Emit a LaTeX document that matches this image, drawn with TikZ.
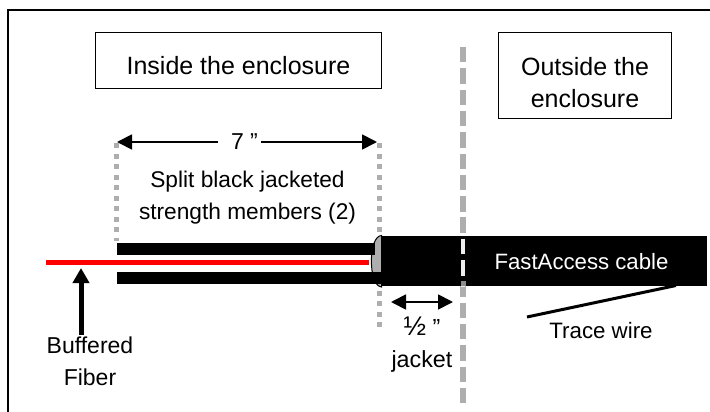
\documentclass[tikz,border=0pt]{standalone}
\usepackage{fontspec}
\setmainfont{Liberation Sans}
\usetikzlibrary{arrows.meta}
\definecolor{guide}{HTML}{AEAEAE}
\tikzset{
 lbl/.style={inner sep=0pt,anchor=base,align=center,font=\fontsize{#1}{32}\selectfont},
 box/.style={draw=black,line width=0.9pt,fill=white,inner sep=0pt},
 dots/.style={draw=guide,line width=5pt,dash pattern=on 5pt off 5.55pt},
 dashgray/.style={line width=6pt,dash pattern=on 15.5pt off 5.8pt},
 dim/.style={draw=black,line width=1.8pt,arrows={-{Triangle[length=15pt,width=15pt]}}},
 dimtwo/.style={draw=black,line width=1.8pt,arrows={{Triangle[length=15pt,width=15pt]}-{Triangle[length=15pt,width=15pt]}}},
}
\begin{document}
\begin{tikzpicture}[x=1pt,y=-1pt]
\useasboundingbox (0,0) rectangle (710,412);
\fill[white] (0,0) rectangle (710,412);
% frame: only its top and left sides fall inside the picture
\coordinate (fb) at (8,412); \coordinate (fc) at (8,10); \coordinate (fr) at (710,10);
\draw[black,line width=1.5pt] (fb)--(fc)--(fr);
% boxes
\node[box,minimum width=285.5pt,minimum height=56pt] (inside) at (238.25,60.5) {};
\node[lbl=25] (insidetext) at (238.5,75) {Inside the enclosure};
\node[box,minimum width=173pt,minimum height=86pt] (outside) at (584.5,75.5) {};
\node[lbl=25] (outsidetext) at (585,107) {Outside the\\enclosure};
% dotted guides
\coordinate (dl1) at (116.7,143); \coordinate (dl2) at (116.7,241);
\coordinate (dr1) at (379,143); \coordinate (dr2) at (379,332);
\draw[dots] (dl1)--(dl2);
\draw[dots] (dr1)--(dr2);
% centre dashed line
\coordinate (c1) at (463,47); \coordinate (c2) at (463,403);
\draw[dashgray,draw=guide] (c1)--(c2);
% cable
\path[fill=guide,draw=black,line width=1pt] (381.5,235.5) .. controls (368,236) and (368,286) .. (381.5,287) -- cycle;
\node[fill=black,draw=none,inner sep=0pt,minimum width=325pt,minimum height=50pt] (cable) at (544,261) {};
\begin{scope}
\clip (cable.south west) rectangle (cable.north east);
\draw[dashgray,line width=4.5pt,draw=white!93!black] (c1)--(c2);
\end{scope}
\fill[black!45] (460.5,281.3) rectangle (465.5,286);
\node[lbl=22.2,text=white] (fa) at (581.5,269) {FastAccess cable};
% strength members and fibre
\fill[black] (117,243) rectangle (375,255);
\fill[black] (117,272) rectangle (381,284);
\fill[red] (46,259.5) rectangle (369,265.3);
% seven inch dimension
\node[lbl=23] (seven) at (244.5,149) {7 ”};
\coordinate (a7l) at (117,142); \coordinate (a7r) at (377,142);
\coordinate (s7l) at (218,142); \coordinate (s7r) at (261,142);
\draw[dim] (s7l)--(a7l);
\draw[dim] (s7r)--(a7r);
\node[lbl=22.7] (split) at (247.5,219.5) {Split black jacketed\\strength members (2)};
% half inch dimension
\coordinate (j1) at (391,302); \coordinate (j2) at (453,302);
\draw[dimtwo] (j1)--(j2);
\node[lbl=23.3] (jacket) at (422,367) {\fontsize{23.3}{29}\selectfont {\fontsize{27}{29}\selectfont ½} ”\\jacket};
% buffered fiber arrow
\coordinate (bf1) at (81,335); \coordinate (bf2) at (81,268);
\draw[draw=black,line width=5pt,arrows={-{Triangle[length=15pt,width=16pt]}}] (bf1)--(bf2);
\node[lbl=23] (buffered) at (90,385) {Buffered\\Fiber};
% trace wire
\coordinate (t1) at (527,317); \coordinate (t2) at (676,285.5);
\draw[black,line width=3pt] (t1)--(t2);
\node[lbl=22.3] (trace) at (601,338) {Trace wire};
\end{tikzpicture}
\end{document}
